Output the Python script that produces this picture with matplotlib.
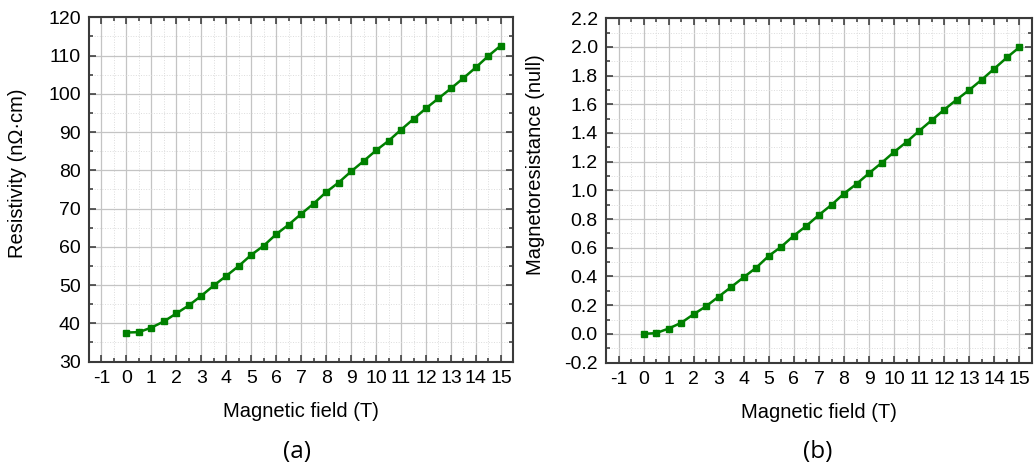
import matplotlib
matplotlib.use('Agg')
import matplotlib.pyplot as plt
from matplotlib.ticker import MultipleLocator, FormatStrFormatter

plt.rcParams['font.family'] = ['Liberation Sans', 'DejaVu Sans']

# magnetic field (T)
field = [0, 0.5, 1, 1.5, 2, 2.5, 3, 3.5, 4, 4.5, 5, 5.5, 6, 6.5, 7, 7.5,
         8, 8.5, 9, 9.5, 10, 10.5, 11, 11.5, 12, 12.5, 13, 13.5, 14, 14.5, 15]
# resistivity (nOhm.cm)
resistivity = [37.6, 37.7, 38.9, 40.5, 42.6, 44.7, 47.2, 49.9, 52.4, 55.0,
               57.9, 60.3, 63.3, 65.8, 68.6, 71.3, 74.3, 76.8, 79.7, 82.4,
               85.2, 87.7, 90.6, 93.4, 96.2, 98.8, 101.4, 104.1, 106.9, 109.9, 112.6]
# magnetoresistance
mr = [0.0, 0.005, 0.037, 0.077, 0.137, 0.193, 0.26, 0.327, 0.395, 0.462,
      0.544, 0.608, 0.685, 0.753, 0.829, 0.899, 0.978, 1.045, 1.12, 1.192,
      1.268, 1.338, 1.415, 1.489, 1.563, 1.633, 1.70, 1.772, 1.849, 1.926, 1.998]

xtick_vals = list(range(-1, 16))
xtick_labels = [str(v) for v in xtick_vals]


def style_axes(ax, ymin, ymax, ymaj, ymin_step, fmt):
    ax.set_xlim(-1.5, 15.5)
    ax.set_ylim(ymin, ymax)
    ax.set_xticks(xtick_vals)
    ax.set_xticklabels(xtick_labels)
    ax.xaxis.set_minor_locator(MultipleLocator(0.5))
    ax.yaxis.set_major_locator(MultipleLocator(ymaj))
    ax.yaxis.set_minor_locator(MultipleLocator(ymin_step))
    ax.yaxis.set_major_formatter(FormatStrFormatter(fmt))
    ax.grid(which='major', color='#c4c4c4', linewidth=0.9)
    ax.grid(which='minor', color='#dcdcdc', linewidth=0.7, linestyle=':')
    ax.set_axisbelow(True)
    ax.tick_params(which='both', direction='in', top=True, right=True,
                   labelsize=14, pad=6, color='#333333', width=1.1)
    ax.tick_params(which='major', length=5)
    ax.tick_params(which='minor', length=3)
    for s in ax.spines.values():
        s.set_linewidth(1.5)
        s.set_color('#3a3a3a')
    ax.set_xlabel('Magnetic field (T)', fontsize=14.5)
    ax.xaxis.set_label_coords(0.5, -0.117)


fig = plt.figure(figsize=(10.35, 4.66), dpi=100)

ax1 = fig.add_axes([0.086, 0.224, 0.410, 0.739])
ax1.plot(field, resistivity, color='#008000', linewidth=1.8,
         marker='s', markersize=5)
style_axes(ax1, 30, 120, 10, 5, '%d')
ax1.set_ylabel('Resistivity (n\u03a9\u00b7cm)', fontsize=14.5)
ax1.yaxis.set_label_coords(-0.146, 0.548)

ax2 = fig.add_axes([0.5855, 0.222, 0.4116, 0.739])
ax2.plot(field, mr, color='#008000', linewidth=1.8,
         marker='s', markersize=5)
style_axes(ax2, -0.2, 2.2, 0.2, 0.1, '%.1f')
ax2.set_ylabel('Magnetoresistance (null)', fontsize=14.5)
ax2.yaxis.set_label_coords(-0.143, 0.574)

fig.text(0.287, 0.03, '(a)', fontsize=17.5, family=['Open Sans', 'DejaVu Sans'],
         ha='center', va='center')
fig.text(0.790, 0.03, '(b)', fontsize=17.5, family=['Open Sans', 'DejaVu Sans'],
         ha='center', va='center')

fig.savefig('out.png', dpi=100)
